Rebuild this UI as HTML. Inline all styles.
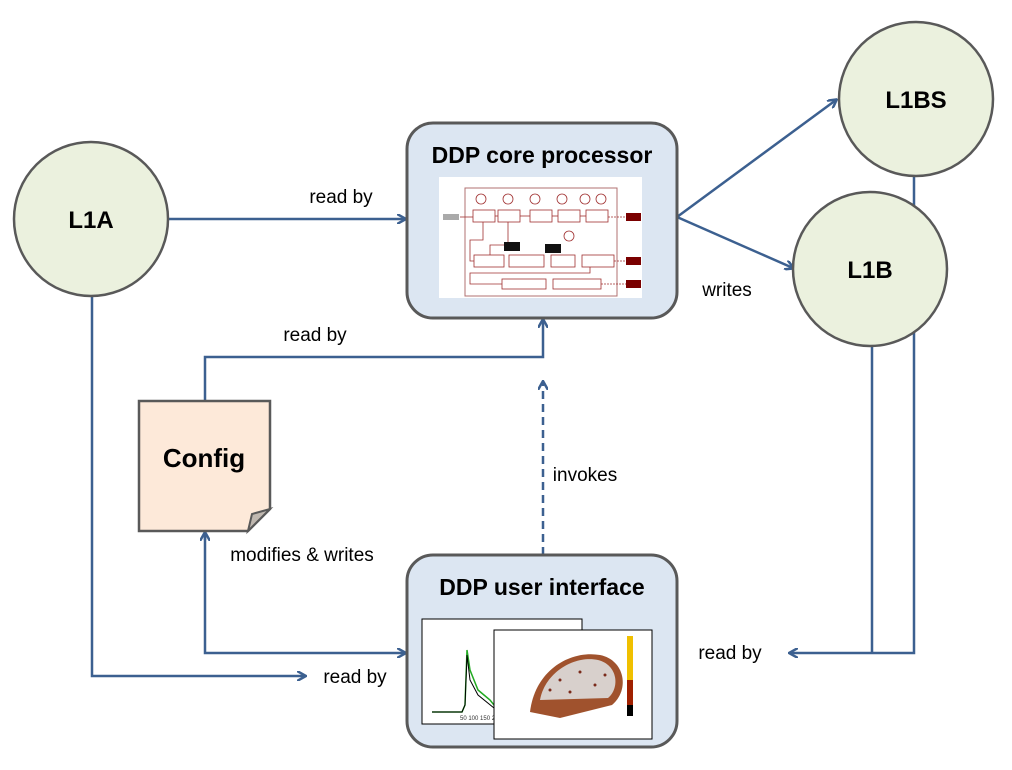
<!DOCTYPE html>
<html><head><meta charset="utf-8"><style>
html,body{margin:0;padding:0;background:#fff;}
svg{display:block;font-family:"Liberation Sans",sans-serif;}
.lbl{font-size:19px;fill:#000;}
.bold{font-weight:bold;fill:#000;}
</style></head><body>
<svg width="1012" height="770" viewBox="0 0 1012 770">
<defs>
<marker id="ah" markerWidth="10" markerHeight="10" refX="8" refY="5" orient="auto" markerUnits="userSpaceOnUse">
<path d="M0,0 L9,5 L0,10" fill="none" stroke="#3c6090" stroke-width="2.5"/>
</marker>
</defs>
<g fill="none" stroke="#3c6090" stroke-width="2.5">
<line x1="168" y1="219" x2="405" y2="219" marker-end="url(#ah)"/>
<line x1="677" y1="217" x2="836" y2="100" marker-end="url(#ah)"/>
<line x1="677" y1="217" x2="793" y2="268" marker-end="url(#ah)"/>
<polyline points="205,401 205,357 543,357 543,320" marker-end="url(#ah)"/>
<line x1="543" y1="555" x2="543" y2="382" stroke-dasharray="8,5" marker-end="url(#ah)"/>
<polyline points="205,533 205,653 405,653" marker-end="url(#ah)"/>
<line x1="205" y1="540" x2="205" y2="533" marker-end="url(#ah)"/>
<polyline points="92,296 92,676 305,676" marker-end="url(#ah)"/>
<polyline points="914,176 914,653 790,653" marker-end="url(#ah)"/>
<line x1="872" y1="346" x2="872" y2="653"/>
</g>
<circle cx="91" cy="219" r="77" fill="#ebf1de" stroke="#595959" stroke-width="2.5"/>
<text x="91" y="228" text-anchor="middle" class="bold" font-size="24">L1A</text>
<circle cx="916" cy="99" r="77" fill="#ebf1de" stroke="#595959" stroke-width="2.5"/>
<text x="916" y="108" text-anchor="middle" class="bold" font-size="24">L1BS</text>
<circle cx="870" cy="269" r="77" fill="#ebf1de" stroke="#595959" stroke-width="2.5"/>
<text x="870" y="278" text-anchor="middle" class="bold" font-size="24">L1B</text>

<rect x="407" y="123" width="270" height="195" rx="26" fill="#dce6f2" stroke="#595959" stroke-width="3"/>
<text x="542" y="163" text-anchor="middle" class="bold" font-size="23">DDP core processor</text>
<rect x="439" y="177" width="203" height="121" fill="#fff"/>
<rect x="465" y="188" width="152" height="108" fill="none" stroke="#b07070" stroke-width="1"/>
<g fill="none" stroke="#a03030" stroke-width="0.8">
<polyline points="460,217 473,217"/><polyline points="495,216 498,216"/><polyline points="520,216 530,216"/><polyline points="552,216 558,216"/><polyline points="580,216 586,216"/><polyline points="608,217 626,217" stroke-dasharray="2,1"/>
<polyline points="483,222 483,240 470,240 470,261 474,261"/><polyline points="508,222 508,245 490,245 490,255"/>
<polyline points="614,261 626,261" stroke-dasharray="2,1"/><polyline points="601,284 626,284" stroke-dasharray="2,1"/>
<polyline points="590,267 590,273 470,273 470,284 502,284"/>
</g>
<g fill="#fff" stroke="#a03030" stroke-width="0.8">
<rect x="473" y="210" width="22" height="12"/><rect x="498" y="210" width="22" height="12"/>
<rect x="530" y="210" width="22" height="12"/><rect x="558" y="210" width="22" height="12"/><rect x="586" y="210" width="22" height="12"/>
<rect x="474" y="255" width="30" height="12"/><rect x="509" y="255" width="35" height="12"/>
<rect x="551" y="255" width="24" height="12"/><rect x="582" y="255" width="32" height="12"/>
<rect x="502" y="279" width="44" height="10"/><rect x="553" y="279" width="48" height="10"/>
<circle cx="481" cy="199" r="5"/><circle cx="508" cy="199" r="5"/><circle cx="535" cy="199" r="5"/><circle cx="562" cy="199" r="5"/><circle cx="585" cy="199" r="5"/><circle cx="601" cy="199" r="5"/><circle cx="569" cy="236" r="5"/>
</g>
<rect x="443" y="214" width="16" height="6" fill="#aaa"/>
<rect x="626" y="213" width="15" height="8" fill="#7a0000"/>
<rect x="626" y="257" width="15" height="8" fill="#7a0000"/>
<rect x="626" y="280" width="15" height="8" fill="#7a0000"/>
<rect x="504" y="242" width="16" height="9" fill="#111"/><rect x="545" y="244" width="16" height="9" fill="#111"/>

<rect x="407" y="555" width="270" height="192" rx="26" fill="#dce6f2" stroke="#595959" stroke-width="3"/>
<text x="542" y="595" text-anchor="middle" class="bold" font-size="23">DDP user interface</text>
<rect x="422" y="619" width="160" height="105" fill="#fff" stroke="#000" stroke-width="1"/>
<polyline points="432,712 462,712 465,705 467,650 470,670 478,690 490,700 494,705" fill="none" stroke="#2a2" stroke-width="1.5"/>
<polyline points="432,712 462,712 465,705 467,655 470,680 478,695 494,708" fill="none" stroke="#000" stroke-width="1"/>
<text x="460" y="720" font-size="6" fill="#333">50  100  150  200</text>
<rect x="494" y="630" width="158" height="109" fill="#fff" stroke="#000" stroke-width="1"/>
<path d="M530,712 C535,670 570,650 600,655 C625,660 630,690 612,705 L560,718 Z" fill="#a0522d"/>
<path d="M540,700 C545,672 575,655 598,660 C618,665 620,688 608,698 Z" fill="#d8d0cc"/>
<g fill="#7a2a1a"><circle cx="560" cy="680" r="1.5"/><circle cx="580" cy="672" r="1.5"/><circle cx="595" cy="685" r="1.5"/><circle cx="570" cy="692" r="1.5"/><circle cx="550" cy="690" r="1.5"/><circle cx="605" cy="675" r="1.5"/></g>
<rect x="627" y="636" width="6" height="80" fill="#f0c000"/>
<rect x="627" y="680" width="6" height="36" fill="#a02000"/>
<rect x="627" y="705" width="6" height="11" fill="#000"/>

<path d="M139,401 L270,401 L270,509 L248,531 L139,531 Z" fill="#fde9d9" stroke="#595959" stroke-width="2.5"/>
<path d="M248,531 L252,514 L270,509 Z" fill="#c0b8b0" stroke="#595959" stroke-width="2"/>
<text x="204" y="467" text-anchor="middle" class="bold" font-size="26">Config</text>

<text x="341" y="203" text-anchor="middle" class="lbl">read by</text>
<text x="727" y="296" text-anchor="middle" class="lbl">writes</text>
<text x="315" y="341" text-anchor="middle" class="lbl">read by</text>
<text x="585" y="481" text-anchor="middle" class="lbl">invokes</text>
<text x="302" y="561" text-anchor="middle" class="lbl">modifies &amp; writes</text>
<text x="355" y="683" text-anchor="middle" class="lbl">read by</text>
<text x="730" y="659" text-anchor="middle" class="lbl">read by</text>
</svg>
</body></html>
